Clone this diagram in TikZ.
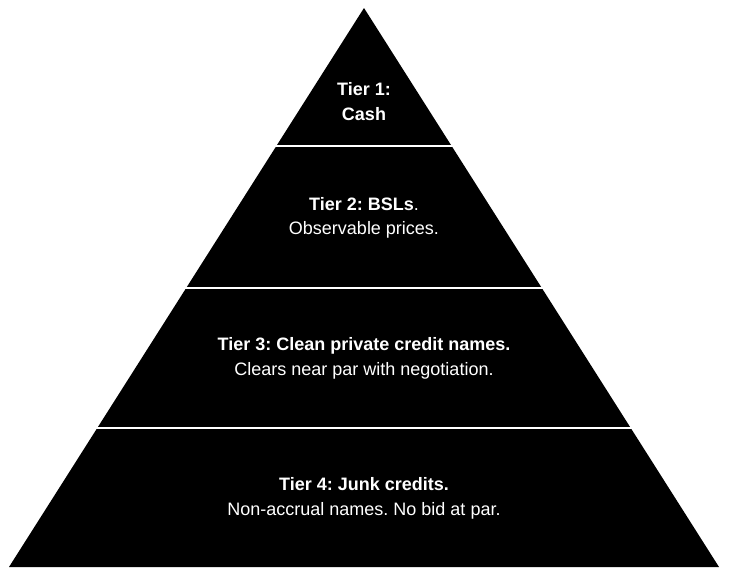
\documentclass[tikz,border=0pt]{standalone}
\usepackage{fontspec}
\setmainfont{Liberation Sans}
\frenchspacing
\usetikzlibrary{calc}
\begin{document}
\begin{tikzpicture}[x=1pt,y=-1pt,
  tier/.style={fill=black},
  gap/.style={draw=white,line width=2pt,shorten <=-3pt,shorten >=-3pt},
  lbl/.style={text=white,anchor=base,inner sep=0pt,font=\fontsize{18}{25}\selectfont}]
\useasboundingbox (0,0) rectangle (734,581);
\coordinate (A) at (364,8);
\coordinate (BL) at (9,567);
\coordinate (BR) at (719,567);
\fill[tier] (A) -- (BL) -- (BR) -- cycle;
\foreach \t/\n in {0.2469/g1,0.5009/g2,0.7513/g3}{
  \coordinate (\n l) at ($(A)!\t!(BL)$);
  \coordinate (\n r) at ($(A)!\t!(BR)$);
  \draw[gap] (\n l) -- (\n r);
}
\node[lbl] (t1a) at (364,95) {\textbf{Tier 1:}};
\node[lbl] (t1b) at (364,120) {\textbf{Cash}};
\node[lbl] (t2a) at (364,210) {\textbf{Tier 2: BSLs}.};
\node[lbl] (t2b) at (364,234.5) {Observable prices.};
\node[lbl] (t3a) at (364,350.5) {\textbf{Tier 3: Clean private credit names.}};
\node[lbl] (t3b) at (364,375) {Clears near par with negotiation.};
\node[lbl] (t4a) at (364,490.5) {\textbf{Tier 4: Junk credits.}};
\node[lbl] (t4b) at (364,515) {Non-accrual names. No bid at par.};
\end{tikzpicture}
\end{document}
